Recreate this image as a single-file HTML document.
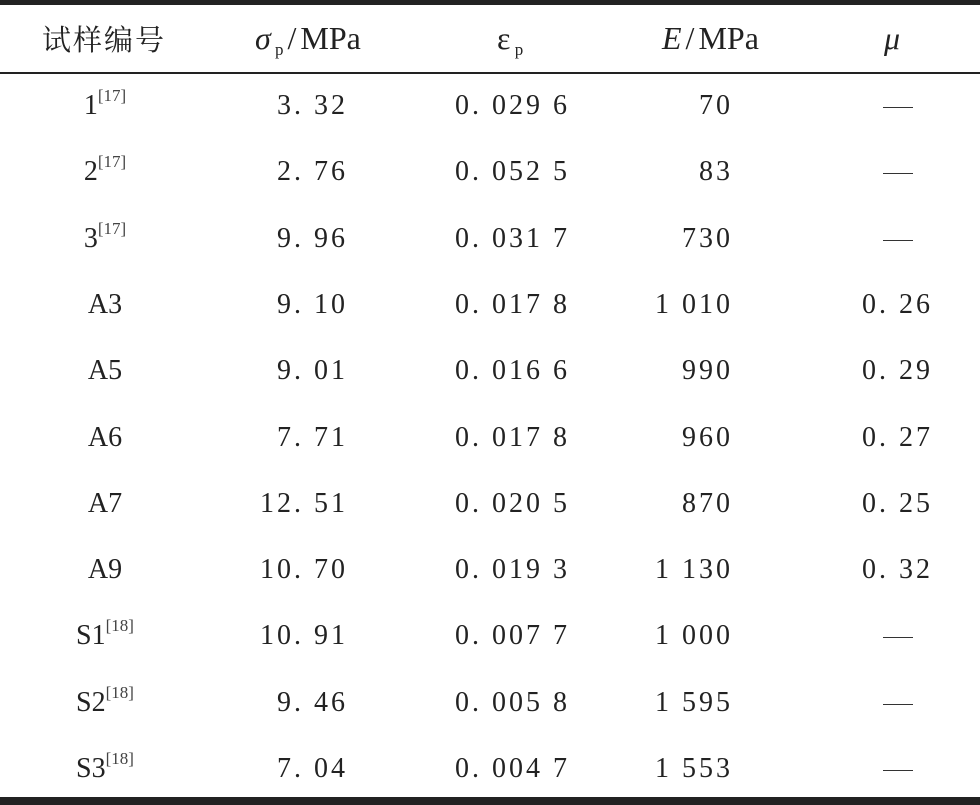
<!DOCTYPE html>
<html><head><meta charset="utf-8"><style>
body{margin:0;width:980px;height:805px;background:#fff;position:relative;overflow:hidden;font-family:"Liberation Serif","Noto Serif CJK SC",serif;color:#222}
.rule{position:absolute;left:0;width:980px;background:#222}
.c{position:absolute;font-size:28px;line-height:34px;white-space:nowrap}
.n{letter-spacing:3px}
sup{font-size:17px;color:#444;vertical-align:baseline;position:relative;top:-13px;line-height:0;letter-spacing:0}
.sub{font-size:17px;vertical-align:baseline;position:relative;top:6px;line-height:0;font-style:normal}
.h{font-size:32px}
.sl{margin:0 4px}
</style></head><body>
<div class="rule" style="top:0;height:5px"></div>
<div class="rule" style="top:72px;height:1.5px"></div>
<div class="rule" style="top:797px;height:8px"></div>
<div class="c" style="left:42px;top:22px;font-family:'Noto Serif CJK SC','Noto Sans CJK SC',serif;letter-spacing:2px;font-size:29px">试样编号</div>
<div class="c h" style="left:255px;top:21px"><i>σ</i><span class="sub">&nbsp;p</span><span class="sl">/</span>MPa</div>
<div class="c h" style="left:497px;top:21px">ε<span class="sub">&nbsp;p</span></div>
<div class="c h" style="left:662px;top:21px"><i>E</i><span class="sl">/</span>MPa</div>
<div class="c h" style="left:884px;top:21px"><i>μ</i></div>
<script>
var ids=["1<sup>[17]</sup>","2<sup>[17]</sup>","3<sup>[17]</sup>","A3","A5","A6","A7","A9","S1<sup>[18]</sup>","S2<sup>[18]</sup>","S3<sup>[18]</sup>"];
var sig=["3.32","2.76","9.96","9.10","9.01","7.71","12.51","10.70","10.91","9.46","7.04"];
var eps=["0.029 6","0.052 5","0.031 7","0.017 8","0.016 6","0.017 8","0.020 5","0.019 3","0.007 7","0.005 8","0.004 7"];
var mod=["70","83","730","1 010","990","960","870","1 130","1 000","1 595","1 553"];
var mu=["—","—","—","0.26","0.29","0.27","0.25","0.32","—","—","—"];
function cell(html,style,cls,name){var d=document.createElement('div');d.className='c '+cls;d.innerHTML=html;d.setAttribute('style',style);


document.body.appendChild(d);}
for(var i=0;i<ids.length;i++){
 var rowTop=89+i*66.3;
 cell(ids[i],'top:'+rowTop+'px;left:0;width:210px;text-align:center','', 'sample-id-'+i);
 cell(sig[i].replace('.','. '),'top:'+rowTop+'px;right:'+(980-348)+'px;text-align:right','n','sigma-'+i);
 cell(eps[i].replace('.','. '),'top:'+rowTop+'px;right:'+(980-570)+'px;text-align:right','n','epsilon-'+i);
 cell(mod[i],'top:'+rowTop+'px;right:'+(980-733)+'px;text-align:right','n','modulus-'+i);
 cell(mu[i]==='—'?'<span style="display:inline-block;width:30px;height:1px;background:#333;vertical-align:middle"></span>':mu[i].replace('.','. '),'top:'+rowTop+'px;left:800px;width:195px;text-align:center','n','mu-'+i);
}
</script>
</body></html>
